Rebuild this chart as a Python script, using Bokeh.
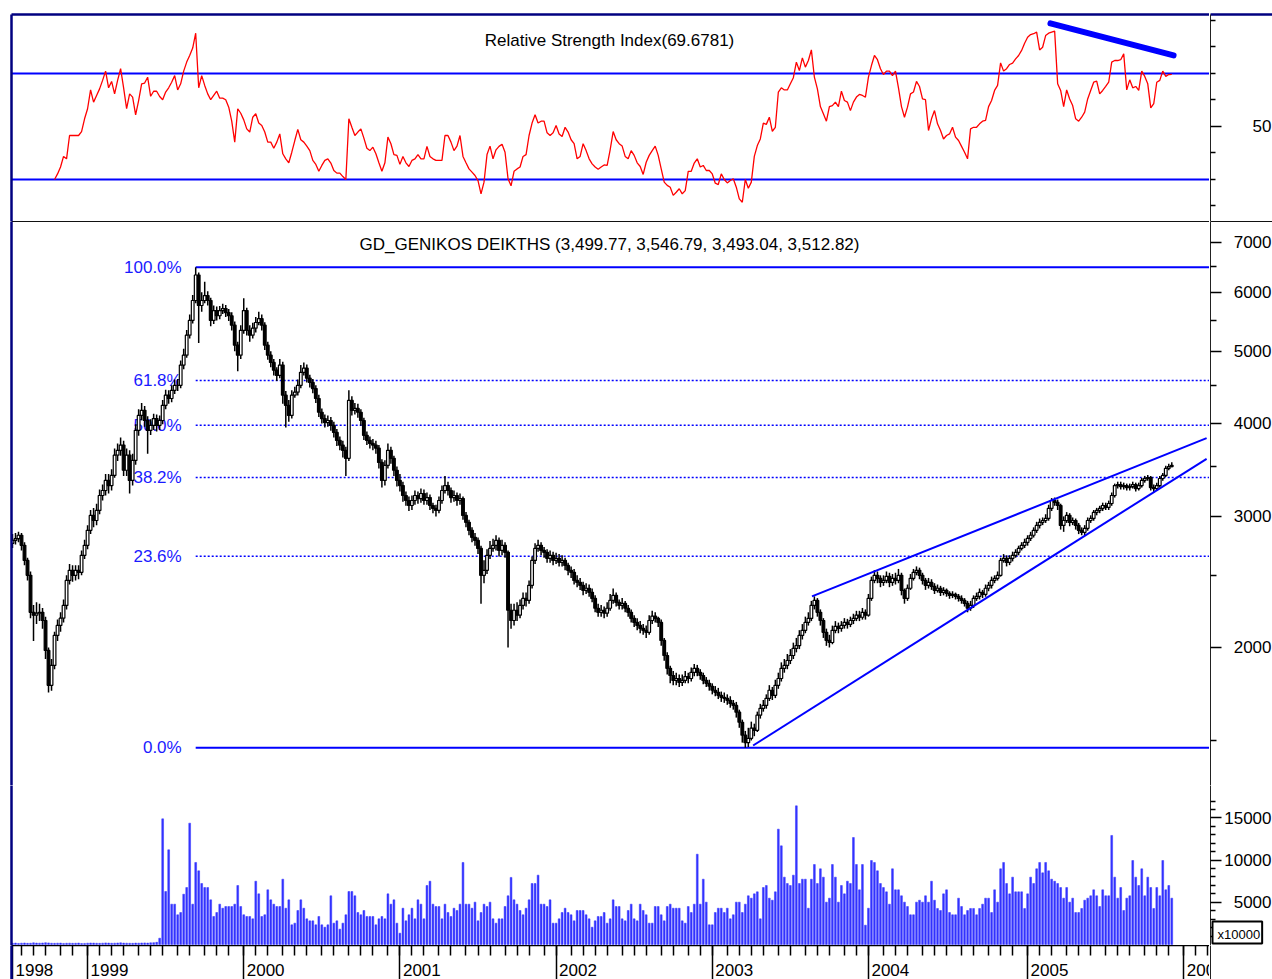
import pandas as pd
from bokeh.plotting import figure
from bokeh.models import (Range1d, LinearAxis, FixedTicker, Span, Label,
                          ColumnDataSource, BasicTickFormatter)
from bokeh.layouts import column, row
from bokeh.embed import file_html
from bokeh.resources import INLINE
from bokeh.core.properties import value

FONT = "Liberation Sans"

# ------------------------------------------------------------------ data
start_date = "1998-07-16"          # first weekly bar
rsi_title = "Relative Strength Index(69.6781)"
price_title = "GD_GENIKOS DEIKTHS (3,499.77, 3,546.79, 3,493.04, 3,512.82)"

opens = [
 2760, 2785, 2800, 2830, 2743, 2618, 2500, 2230, 2210, 2224,
 2230, 2174, 1982, 1779, 1892, 2076, 2141, 2190, 2278, 2461,
 2539, 2500, 2539, 2523, 2660, 2743, 2873, 3009, 2962, 3056,
 3200, 3250, 3353, 3300, 3405, 3625, 3680, 3740, 3460, 3625,
 3353, 3567, 3915, 4100, 4165, 4036, 3915, 3975, 4060, 3975,
 4036, 4230, 4365, 4320, 4430, 4500, 4500, 4790, 4940, 5255,
 5500, 5850, 6330, 5760, 5850, 5940, 5850, 5500, 5670, 5580,
 5670, 5705, 5635, 5580, 5420, 5095, 4940, 5335, 5670, 5335,
 5255, 5370, 5465, 5530, 5420, 5095, 4940, 4830, 4715, 4640,
 4790, 4365, 4230, 4100, 4365, 4405, 4500, 4685, 4745, 4600,
 4540, 4455, 4320, 4140, 4060, 4010, 4036, 3975, 3890, 3795,
 3740, 3680, 3590, 4295, 4165, 4190, 4140, 4036, 3855, 3795,
 3760, 3740, 3705, 3545, 3353, 3512, 3680, 3590, 3460, 3353,
 3300, 3200, 3151, 3103, 3151, 3200, 3170, 3220, 3151, 3180,
 3103, 3075, 3056, 3151, 3250, 3300, 3250, 3180, 3200, 3151,
 3170, 3009, 2945, 2873, 2812, 2785, 2717, 2500, 2539, 2660,
 2717, 2743, 2785, 2700, 2743, 2684, 2244, 2174, 2244, 2210,
 2278, 2328, 2313, 2424, 2618, 2717, 2743, 2700, 2684, 2635,
 2660, 2618, 2635, 2602, 2618, 2578, 2539, 2523, 2461, 2446,
 2424, 2387, 2402, 2372, 2328, 2258, 2230, 2244, 2224, 2258,
 2313, 2350, 2299, 2278, 2292, 2258, 2230, 2188, 2161, 2141,
 2122, 2109, 2096, 2174, 2203, 2188, 2161, 2044, 1951, 1875,
 1834, 1806, 1817, 1795, 1806, 1828, 1817, 1852, 1875, 1852,
 1834, 1806, 1790, 1774, 1752, 1741, 1725, 1714, 1709, 1698,
 1682, 1672, 1637, 1587, 1525, 1490, 1510, 1558, 1548, 1622,
 1657, 1672, 1709, 1752, 1725, 1779, 1817, 1875, 1892, 1921,
 1951, 1994, 2012, 2076, 2109, 2161, 2188, 2278, 2313, 2230,
 2174, 2096, 2044, 2031, 2109, 2135, 2122, 2141, 2161, 2148,
 2174, 2188, 2210, 2196, 2230, 2210, 2328, 2461, 2500, 2477,
 2446, 2461, 2492, 2446, 2477, 2461, 2500, 2387, 2328, 2402,
 2477, 2523, 2539, 2500, 2461, 2424, 2446, 2416, 2387, 2402,
 2372, 2387, 2365, 2350, 2357, 2343, 2328, 2313, 2292, 2258,
 2278, 2328, 2343, 2372, 2357, 2402, 2424, 2461, 2477, 2500,
 2618, 2635, 2602, 2635, 2660, 2684, 2717, 2743, 2768, 2802,
 2830, 2873, 2917, 2945, 2962, 2981, 3075, 3151, 3132, 3103,
 2917, 2962, 3009, 2945, 2962, 2917, 2873, 2856, 2891, 2962,
 2981, 3037, 3056, 3075, 3103, 3084, 3122, 3200, 3300, 3310,
 3290, 3300, 3280, 3290, 3310, 3270, 3300, 3353, 3373, 3383,
 3280, 3270, 3300, 3373, 3405, 3480, 3499.77]

highs = [
 2840, 2850, 2860, 2850, 2770, 2640, 2530, 2280, 2300, 2290,
 2260, 2200, 2000, 1930, 2100, 2180, 2230, 2320, 2500, 2590,
 2580, 2580, 2580, 2700, 2790, 2920, 3060, 3080, 3120, 3260,
 3310, 3420, 3420, 3470, 3700, 3760, 3830, 3790, 3700, 3680,
 3640, 3990, 4180, 4260, 4220, 4090, 4050, 4120, 4110, 4100,
 4300, 4440, 4430, 4500, 4580, 4590, 4860, 5040, 5340, 5600,
 5950, 6484, 6380, 6000, 6200, 6020, 5900, 5760, 5740, 5750,
 5790, 5770, 5700, 5640, 5480, 5150, 5420, 5890, 5720, 5420,
 5460, 5560, 5650, 5600, 5470, 5150, 5000, 4880, 4760, 4880,
 4840, 4420, 4300, 4430, 4480, 4580, 4790, 4830, 4800, 4650,
 4590, 4500, 4370, 4190, 4110, 4100, 4080, 4020, 3930, 3840,
 3790, 3720, 4430, 4350, 4260, 4250, 4180, 4070, 3900, 3840,
 3810, 3790, 3740, 3580, 3570, 3760, 3720, 3620, 3500, 3420,
 3340, 3240, 3190, 3200, 3250, 3240, 3270, 3260, 3230, 3210,
 3130, 3110, 3190, 3300, 3400, 3340, 3280, 3250, 3230, 3220,
 3190, 3040, 2970, 2900, 2850, 2810, 2740, 2620, 2710, 2780,
 2800, 2830, 2810, 2790, 2770, 2700, 2290, 2290, 2300, 2320,
 2370, 2370, 2460, 2650, 2760, 2790, 2770, 2730, 2710, 2700,
 2690, 2680, 2670, 2660, 2640, 2600, 2570, 2550, 2500, 2480,
 2450, 2440, 2430, 2400, 2350, 2290, 2280, 2270, 2300, 2360,
 2400, 2370, 2320, 2330, 2310, 2280, 2250, 2210, 2190, 2170,
 2150, 2140, 2210, 2240, 2230, 2200, 2180, 2060, 1970, 1890,
 1860, 1850, 1840, 1840, 1860, 1850, 1880, 1900, 1895, 1870,
 1850, 1825, 1810, 1790, 1775, 1765, 1745, 1740, 1730, 1720,
 1700, 1690, 1650, 1600, 1545, 1560, 1590, 1580, 1640, 1680,
 1700, 1730, 1780, 1770, 1810, 1850, 1910, 1930, 1960, 1990,
 2030, 2060, 2110, 2150, 2200, 2230, 2310, 2343, 2330, 2250,
 2190, 2120, 2080, 2140, 2170, 2160, 2170, 2190, 2185, 2200,
 2220, 2240, 2240, 2260, 2250, 2360, 2490, 2540, 2530, 2500,
 2500, 2530, 2520, 2510, 2520, 2550, 2520, 2400, 2430, 2510,
 2550, 2570, 2560, 2520, 2480, 2480, 2470, 2440, 2430, 2420,
 2410, 2400, 2380, 2380, 2370, 2360, 2350, 2330, 2310, 2310,
 2350, 2370, 2400, 2390, 2430, 2450, 2490, 2500, 2530, 2640,
 2670, 2660, 2660, 2690, 2710, 2740, 2770, 2800, 2830, 2860,
 2900, 2950, 2980, 2990, 3020, 3110, 3175, 3180, 3160, 3120,
 3000, 3040, 3030, 2990, 2980, 2940, 2900, 2920, 2990, 3010,
 3060, 3080, 3100, 3130, 3130, 3150, 3230, 3320, 3340, 3340,
 3330, 3320, 3320, 3340, 3330, 3330, 3380, 3400, 3410, 3400,
 3310, 3330, 3400, 3430, 3510, 3530, 3546.79]

lows = [
 2720, 2750, 2770, 2700, 2580, 2460, 2190, 2040, 2150, 2170,
 2120, 1930, 1740, 1750, 1870, 2040, 2100, 2160, 2250, 2430,
 2450, 2460, 2470, 2500, 2630, 2710, 2840, 2900, 2920, 3020,
 3150, 3200, 3220, 3250, 3380, 3560, 3620, 3400, 3400, 3220,
 3300, 3520, 3850, 4040, 3960, 3640, 3860, 3920, 3900, 3920,
 3990, 4180, 4250, 4270, 4380, 4420, 4460, 4730, 4900, 5200,
 5450, 5800, 5130, 5650, 5800, 5760, 5400, 5440, 5500, 5520,
 5610, 5560, 5490, 5330, 5000, 4700, 4880, 5280, 5250, 5150,
 5200, 5300, 5420, 5330, 5020, 4870, 4760, 4640, 4560, 4600,
 4250, 3950, 4020, 4060, 4330, 4360, 4460, 4640, 4540, 4470,
 4390, 4260, 4080, 4000, 3950, 3960, 3910, 3830, 3730, 3680,
 3600, 3400, 3560, 4100, 4110, 4070, 3970, 3800, 3740, 3700,
 3680, 3640, 3480, 3280, 3300, 3480, 3530, 3400, 3290, 3240,
 3140, 3100, 3050, 3060, 3110, 3120, 3130, 3110, 3110, 3060,
 3030, 3000, 3030, 3120, 3220, 3200, 3130, 3140, 3100, 3110,
 2970, 2900, 2830, 2770, 2740, 2670, 2290, 2440, 2510, 2630,
 2690, 2700, 2650, 2660, 2640, 2000, 2120, 2140, 2170, 2190,
 2250, 2270, 2290, 2400, 2590, 2690, 2660, 2640, 2600, 2600,
 2580, 2590, 2570, 2570, 2540, 2500, 2480, 2430, 2410, 2390,
 2350, 2360, 2340, 2300, 2230, 2200, 2200, 2190, 2200, 2240,
 2290, 2270, 2250, 2250, 2230, 2200, 2160, 2130, 2110, 2090,
 2080, 2060, 2080, 2150, 2160, 2130, 2010, 1920, 1840, 1790,
 1780, 1780, 1770, 1775, 1790, 1790, 1800, 1830, 1830, 1810,
 1785, 1770, 1750, 1730, 1720, 1705, 1690, 1685, 1675, 1660,
 1650, 1610, 1560, 1490, 1467, 1470, 1500, 1520, 1540, 1605,
 1640, 1655, 1695, 1700, 1710, 1760, 1800, 1850, 1870, 1900,
 1930, 1970, 1990, 2050, 2090, 2140, 2170, 2250, 2200, 2140,
 2060, 2010, 2000, 2020, 2090, 2090, 2100, 2120, 2120, 2130,
 2150, 2170, 2170, 2180, 2180, 2200, 2310, 2440, 2440, 2410,
 2420, 2440, 2410, 2420, 2430, 2440, 2350, 2290, 2310, 2390,
 2460, 2500, 2470, 2430, 2390, 2400, 2390, 2360, 2370, 2345,
 2350, 2340, 2325, 2330, 2320, 2305, 2290, 2270, 2230, 2240,
 2260, 2310, 2320, 2330, 2340, 2380, 2400, 2440, 2460, 2490,
 2600, 2570, 2580, 2610, 2640, 2660, 2700, 2720, 2740, 2780,
 2810, 2850, 2890, 2920, 2940, 2960, 3050, 3100, 3060, 2880,
 2860, 2940, 2910, 2920, 2880, 2840, 2830, 2830, 2870, 2940,
 2960, 3010, 3030, 3050, 3060, 3060, 3100, 3180, 3270, 3260,
 3260, 3250, 3250, 3270, 3240, 3250, 3280, 3330, 3350, 3250,
 3230, 3250, 3280, 3350, 3390, 3460, 3493.04]

closes = [
 2785, 2800, 2830, 2743, 2618, 2500, 2230, 2210, 2224, 2230,
 2174, 1982, 1779, 1892, 2076, 2141, 2190, 2278, 2461, 2539,
 2500, 2539, 2523, 2660, 2743, 2873, 3009, 2962, 3056, 3200,
 3250, 3353, 3300, 3405, 3625, 3680, 3740, 3460, 3625, 3353,
 3567, 3915, 4100, 4165, 4036, 3915, 3975, 4060, 3975, 4036,
 4230, 4365, 4320, 4430, 4500, 4500, 4790, 4940, 5255, 5500,
 5850, 6330, 5760, 5850, 5940, 5850, 5500, 5670, 5580, 5670,
 5705, 5635, 5580, 5420, 5095, 4940, 5335, 5670, 5335, 5255,
 5370, 5465, 5530, 5420, 5095, 4940, 4830, 4715, 4640, 4790,
 4365, 4230, 4100, 4365, 4405, 4500, 4685, 4745, 4600, 4540,
 4455, 4320, 4140, 4060, 4010, 4036, 3975, 3890, 3795, 3740,
 3680, 3590, 4295, 4165, 4190, 4140, 4036, 3855, 3795, 3760,
 3740, 3705, 3545, 3353, 3512, 3680, 3590, 3460, 3353, 3300,
 3200, 3151, 3103, 3151, 3200, 3170, 3220, 3151, 3180, 3103,
 3075, 3056, 3151, 3250, 3300, 3250, 3180, 3200, 3151, 3170,
 3009, 2945, 2873, 2812, 2785, 2717, 2500, 2539, 2660, 2717,
 2743, 2785, 2700, 2743, 2684, 2244, 2174, 2244, 2210, 2278,
 2328, 2313, 2424, 2618, 2717, 2743, 2700, 2684, 2635, 2660,
 2618, 2635, 2602, 2618, 2578, 2539, 2523, 2461, 2446, 2424,
 2387, 2402, 2372, 2328, 2258, 2230, 2244, 2224, 2258, 2313,
 2350, 2299, 2278, 2292, 2258, 2230, 2188, 2161, 2141, 2122,
 2109, 2096, 2174, 2203, 2188, 2161, 2044, 1951, 1875, 1834,
 1806, 1817, 1795, 1806, 1828, 1817, 1852, 1875, 1852, 1834,
 1806, 1790, 1774, 1752, 1741, 1725, 1714, 1709, 1698, 1682,
 1672, 1637, 1587, 1525, 1490, 1510, 1558, 1548, 1622, 1657,
 1672, 1709, 1752, 1725, 1779, 1817, 1875, 1892, 1921, 1951,
 1994, 2012, 2076, 2109, 2161, 2188, 2278, 2313, 2230, 2174,
 2096, 2044, 2031, 2109, 2135, 2122, 2141, 2161, 2148, 2174,
 2188, 2210, 2196, 2230, 2210, 2328, 2461, 2500, 2477, 2446,
 2461, 2492, 2446, 2477, 2461, 2500, 2387, 2328, 2402, 2477,
 2523, 2539, 2500, 2461, 2424, 2446, 2416, 2387, 2402, 2372,
 2387, 2365, 2350, 2357, 2343, 2328, 2313, 2292, 2258, 2278,
 2328, 2343, 2372, 2357, 2402, 2424, 2461, 2477, 2500, 2618,
 2635, 2602, 2635, 2660, 2684, 2717, 2743, 2768, 2802, 2830,
 2873, 2917, 2945, 2962, 2981, 3075, 3151, 3132, 3103, 2917,
 2962, 3009, 2945, 2962, 2917, 2873, 2856, 2891, 2962, 2981,
 3037, 3056, 3075, 3103, 3084, 3122, 3200, 3300, 3310, 3290,
 3300, 3280, 3290, 3310, 3270, 3300, 3353, 3373, 3383, 3280,
 3270, 3300, 3373, 3405, 3480, 3500, 3512.82]

# weekly volume, in units of 10000
volumes = [
 150, 170, 130, 160, 180, 140, 150, 200, 170, 160,
 180, 210, 190, 150, 140, 160, 170, 130, 150, 160,
 140, 150, 170, 120, 130, 160, 180, 170, 150, 140,
 160, 190, 170, 150, 160, 180, 200, 170, 160, 150,
 140, 170, 160, 180, 190, 170, 200, 220, 260, 750,
 14890, 6280, 11220, 4780, 4780, 3520, 3790, 5960, 6750, 14380,
 4780, 9720, 8730, 7230, 6750, 6750, 5290, 3320, 3790, 4780,
 4300, 4500, 4500, 4500, 4780, 6990, 4500, 3520, 3320, 3320,
 3040, 7500, 6000, 3320, 3520, 6480, 5290, 4780, 4500, 4500,
 7740, 4300, 5290, 2330, 2530, 4030, 5290, 4300, 3040, 2800,
 2800, 2330, 3320, 2330, 2050, 2330, 5770, 2530, 2800, 1820,
 2530, 3520, 6280, 6280, 5770, 3790, 3520, 4030, 3320, 3320,
 3320, 2330, 3040, 3320, 3040, 6000, 4780, 5290, 2530, 1340,
 4300, 2800, 3520, 4300, 3040, 5290, 4780, 3040, 6990, 7500,
 4780, 4500, 4500, 3040, 4780, 3790, 3320, 4300, 4030, 4780,
 9720, 4780, 4780, 4300, 5020, 2800, 3790, 4780, 4500, 5020,
 3040, 2530, 3040, 3040, 4500, 5770, 7950, 5290, 4780, 4030,
 3520, 4300, 5290, 7230, 7230, 8220, 4780, 4780, 4500, 5290,
 2530, 2530, 3040, 3790, 4300, 3790, 3520, 2800, 4030, 4030,
 4030, 3520, 3040, 2050, 2800, 3320, 3320, 3790, 2530, 3040,
 5290, 4500, 4500, 3040, 2800, 4030, 4780, 3040, 2800, 4780,
 4030, 3520, 2530, 2530, 4500, 4500, 3520, 2800, 4500, 4780,
 4300, 4300, 4300, 2800, 2530, 4500, 3790, 4780, 10700, 4780,
 7740, 5020, 2330, 2330, 3790, 4300, 4300, 3790, 4300, 3040,
 3520, 5020, 5020, 3790, 4780, 5770, 5490, 6000, 6240, 3040,
 6750, 6990, 5490, 5250, 6240, 13670, 11690, 7980, 7230, 6990,
 8220, 16430, 7230, 7740, 7740, 4300, 7740, 9480, 7230, 8970,
 7980, 5020, 5490, 9480, 7980, 5020, 6990, 6000, 7500, 7230,
 12680, 9480, 6480, 9480, 2290, 4300, 9950, 9720, 8730, 7230,
 6750, 6240, 4780, 8970, 6480, 6480, 5770, 5020, 4500, 3520,
 3520, 5020, 5250, 5020, 5770, 5020, 7500, 5250, 4270, 4030,
 6000, 6480, 3790, 3520, 3520, 5490, 4500, 3520, 4030, 4270,
 4270, 3520, 4270, 4780, 5490, 5490, 3790, 6480, 5020, 8970,
 9720, 7230, 6000, 7980, 6240, 6240, 6240, 4270, 6000, 7980,
 7230, 8970, 9720, 8490, 9720, 8730, 7740, 7500, 7230, 6750,
 5490, 6750, 5020, 5490, 3790, 3790, 4270, 5250, 5490, 5770,
 6480, 5770, 4500, 6480, 5770, 5770, 12920, 7980, 5490, 6750,
 4030, 5490, 5770, 9950, 7980, 6990, 8970, 5770, 7980, 6750,
 4270, 6750, 5770, 9950, 6480, 6990, 5490]

rsi_first_bar = 14
rsi_values = [
 30.0, 32.1, 34.7, 38.7, 37.8, 46.6, 46.6, 46.6, 46.6, 48.1,
 52.9, 56.7, 63.8, 59.2, 61.7, 64.2, 67.4, 70.9, 64.6, 67.0,
 62.3, 67.4, 71.8, 64.6, 56.7, 62.3, 61.1, 54.4, 59.8, 66.1,
 66.4, 68.6, 61.4, 63.3, 63.3, 61.3, 60.1, 63.0, 64.6, 66.7,
 69.2, 63.8, 66.1, 70.9, 74.3, 76.8, 79.6, 85.2, 64.6, 69.2,
 65.5, 62.3, 60.1, 61.7, 63.3, 60.7, 60.7, 60.1, 57.3, 52.0,
 44.1, 56.7, 55.0, 52.5, 49.1, 47.9, 53.5, 54.8, 51.3, 50.4,
 47.9, 44.1, 44.1, 41.8, 44.1, 47.2, 39.7, 37.8, 36.3, 40.3,
 44.7, 48.9, 45.0, 44.1, 42.6, 40.9, 37.2, 35.7, 33.1, 35.3,
 37.2, 37.8, 36.2, 33.4, 32.4, 32.4, 31.1, 30.0, 52.9, 49.7,
 46.6, 47.9, 49.1, 45.6, 41.8, 40.9, 42.2, 39.7, 36.3, 33.1,
 36.3, 46.0, 43.5, 39.4, 39.1, 35.7, 38.7, 36.3, 34.9, 37.2,
 37.8, 39.4, 37.8, 37.8, 42.5, 38.7, 37.8, 37.2, 37.2, 37.2,
 46.6, 46.6, 44.1, 40.9, 42.6, 46.6, 38.7, 36.3, 34.0, 32.8,
 31.5, 29.6, 24.6, 29.0, 39.4, 42.6, 37.8, 41.2, 42.5, 43.3,
 40.3, 30.3, 27.6, 33.1, 34.0, 34.7, 38.7, 39.4, 46.6, 51.3,
 54.4, 51.3, 52.0, 52.0, 47.6, 46.6, 47.6, 50.4, 47.2, 46.2,
 49.7, 47.9, 45.0, 43.5, 37.8, 38.7, 43.5, 40.9, 37.8, 35.9,
 34.7, 33.9, 34.7, 35.5, 35.3, 41.2, 48.1, 45.0, 43.5, 42.6,
 38.7, 37.8, 40.9, 39.1, 36.3, 34.9, 31.9, 36.5, 39.1, 40.9,
 42.6, 39.1, 34.0, 29.0, 27.8, 27.1, 24.0, 25.2, 26.5, 24.6,
 25.8, 33.1, 33.1, 36.2, 37.8, 34.7, 35.3, 33.4, 33.4, 32.1,
 28.6, 28.1, 32.1, 30.0, 28.7, 29.6, 30.3, 27.1, 22.7, 21.4,
 30.0, 26.7, 29.0, 38.7, 42.8, 45.3, 51.3, 50.8, 53.5, 48.2,
 49.7, 63.0, 64.6, 63.8, 63.8, 66.1, 68.4, 74.3, 71.1, 75.9,
 72.4, 74.9, 78.9, 68.6, 64.2, 57.5, 54.8, 52.0, 57.5, 57.9,
 59.2, 57.5, 63.3, 59.8, 59.2, 56.0, 59.2, 61.1, 62.1, 61.7,
 61.1, 68.6, 73.0, 76.8, 75.2, 71.8, 69.6, 70.9, 70.9, 69.2,
 70.9, 64.6, 57.5, 53.5, 57.3, 62.3, 63.0, 67.0, 65.1, 60.4,
 60.1, 48.5, 52.9, 56.0, 51.0, 48.5, 45.3, 46.6, 47.2, 49.7,
 46.0, 44.7, 42.5, 40.3, 37.8, 49.1, 49.7, 49.7, 51.0, 52.0,
 52.3, 57.5, 59.8, 63.6, 65.5, 74.0, 70.9, 71.8, 73.4, 73.9,
 75.5, 76.8, 78.7, 81.4, 83.7, 84.7, 85.0, 85.6, 78.9, 79.9,
 84.3, 85.2, 85.6, 86.0, 66.1, 63.6, 57.5, 63.8, 60.4, 57.9,
 52.9, 52.0, 53.5, 55.4, 60.4, 63.6, 66.7, 67.1, 62.3, 63.6,
 65.1, 66.7, 74.3, 74.9, 74.9, 75.2, 77.4, 63.8, 67.6, 64.6,
 65.1, 63.6, 70.9, 68.9, 66.1, 57.0, 58.6, 66.7, 67.4, 70.9,
 68.9, 69.6, 69.68]

rsi_levels = [70, 30]
rsi_trend_x = [345.6, 386.6]
rsi_trend_y = [88.9, 76.8]

fib_high = 6484.0
fib_low = 1467.0
fib_start_bar = 61
fib_ratios = [1.0, 0.618, 0.5, 0.382, 0.236, 0.0]
fib_labels = ["100.0%", "61.8%", "50.0%", "38.2%", "23.6%", "0.0%"]

chan_lower_x = [246.6, 397.6]
chan_lower_y = [1477.0, 3585.0]
chan_upper_x = [266.2, 397.6]
chan_upper_y = [2342.0, 3821.0]

rsi_major_ticks = [50]
rsi_minor_ticks = [20, 30, 40, 60, 70, 80, 90]
price_major_ticks = [2000, 3000, 4000, 5000, 6000, 7000]
price_minor_ticks = [1500, 2500, 3500, 4500, 5500, 6500]
vol_major_ticks = [5000, 10000, 15000]
vol_minor_ticks = [1000, 2000, 3000, 4000, 6000, 7000, 8000, 9000, 11000,
                   12000, 13000, 14000, 16000, 17000]
vol_unit = "x10000"

# ------------------------------------------------------------------ layout
PW, AW = 1209, 63          # chart part / right scale part widths
LB = 11
H1, H2, H3, H4 = 221, 564, 160, 34
N = len(closes)
xr = Range1d(-0.33, 398.56)

dates = pd.date_range(start_date, periods=int(xr.end) + 2, freq="7D")
yrs = list(dates.year)
mons = list(dates.month)
year_ticks = [0] + [i for i in range(1, len(dates)) if yrs[i] != yrs[i - 1]]
month_ticks = [i for i in range(1, len(dates)) if mons[i] != mons[i - 1]]


def main_fig(h, yrange, top, log=False):
    p = figure(width=PW, height=h, x_range=xr, y_range=yrange,
               y_axis_type="log" if log else "linear",
               x_axis_location=None, y_axis_location=None,
               output_backend="svg", toolbar_location=None,
               min_border_left=LB, min_border_right=0,
               min_border_top=top, min_border_bottom=0,
               outline_line_color=None, background_fill_color="white",
               border_fill_color="white")
    p.grid.visible = False
    return p


def side_fig(h, yrange, top, log=False):
    a = figure(width=AW, height=h, x_range=Range1d(0, 1), y_range=yrange,
               y_axis_type="log" if log else "linear",
               x_axis_location=None, y_axis_location=None,
               output_backend="svg", toolbar_location=None,
               min_border_left=1, min_border_right=0,
               min_border_top=top, min_border_bottom=0,
               outline_line_color=None, background_fill_color="white",
               border_fill_color="white")
    a.grid.visible = False
    return a


def edge_axis(p, side, color, width):
    ax = LinearAxis(ticker=FixedTicker(ticks=[]), axis_line_color=color,
                    axis_line_width=width, major_tick_line_color=None,
                    minor_tick_line_color=None, major_tick_in=0, major_tick_out=0,
                    minor_tick_in=0, minor_tick_out=0, major_label_standoff=0,
                    major_label_text_font_size="0px")
    p.add_layout(ax, side)


def scale_axis(a, major, minor, major_len, minor_len):
    # ticks point right into the scale strip, labels right-aligned at its edge
    ax = LinearAxis(ticker=FixedTicker(ticks=major, minor_ticks=minor),
                    formatter=BasicTickFormatter(use_scientific=False),
                    axis_line_color="#222222", axis_line_width=1,
                    major_tick_line_color="black", minor_tick_line_color="black",
                    major_tick_line_width=1.5, minor_tick_line_width=1.5,
                    major_tick_in=major_len, major_tick_out=0,
                    minor_tick_in=minor_len, minor_tick_out=0,
                    major_label_standoff=-(AW - 2), major_label_text_font=FONT,
                    major_label_text_font_size="17px",
                    major_label_text_color="black")
    a.add_layout(ax, "left")


# ---- RSI panel
rsi_range = Range1d(14.15, 92.26)
p1 = main_fig(H1, rsi_range, 14)
edge_axis(p1, "above", "#000080", 2.5)
edge_axis(p1, "left", "#000080", 2.5)
for lv in rsi_levels:
    p1.add_layout(Span(location=lv, dimension="width", line_color="#0000ff",
                       line_width=2, level="underlay"))
p1.line(x=list(range(rsi_first_bar, rsi_first_bar + len(rsi_values))),
        y=rsi_values, line_color="#ff0000", line_width=1.3)
p1.line(x=rsi_trend_x, y=rsi_trend_y, line_color="#0000ff", line_width=6,
        line_cap="round")
p1.add_layout(Label(x=598, y=181, x_units="screen", y_units="screen",
                    text=rsi_title, text_align="center", text_baseline="middle",
                    text_font=FONT, text_font_size="17px", text_color="black"))
a1 = side_fig(H1, rsi_range, 14)
edge_axis(a1, "above", "#000080", 2.5)
scale_axis(a1, rsi_major_ticks, rsi_minor_ticks, 11, 5)

# ---- price panel
price_range = Range1d(1305, 7469)
p2 = main_fig(H2, price_range, 0, log=True)
edge_axis(p2, "above", "#111111", 1)
edge_axis(p2, "left", "#000080", 2.5)

levels = [fib_low + r * (fib_high - fib_low) for r in fib_ratios]
for r, lv in zip(fib_ratios, levels):
    solid = r in (0.0, 1.0)
    p2.segment(x0=fib_start_bar, y0=lv, x1=xr.end + 10, y1=lv,
               line_color="#0000ff", line_width=2 if solid else 1.5,
               line_dash="solid" if solid else "2 2")
p2.text(x=[fib_start_bar] * len(levels), y=levels, text=fib_labels,
        x_offset=-14, text_align="right", text_baseline="middle",
        text_font=value(FONT), text_font_size="17px", text_color="#1a1aff")

src = ColumnDataSource(dict(
    x=list(range(N)), o=opens, h=highs, l=lows, c=closes,
    top=[max(a, b) for a, b in zip(opens, closes)],
    bot=[min(a, b) for a, b in zip(opens, closes)],
    fill=["white" if c >= o else "black" for o, c in zip(opens, closes)]))
p2.segment(x0="x", y0="l", x1="x", y1="h", source=src, line_color="black",
           line_width=1.5)
p2.vbar(x="x", top="top", bottom="bot", width=0.9, fill_color="fill",
        line_color="black", line_width=1.2, source=src)

p2.line(x=chan_lower_x, y=chan_lower_y, line_color="#0000ff", line_width=2)
p2.line(x=chan_upper_x, y=chan_upper_y, line_color="#0000ff", line_width=2)
p2.add_layout(Label(x=598, y=541, x_units="screen", y_units="screen",
                    text=price_title, text_align="center", text_baseline="middle",
                    text_font=FONT, text_font_size="17px", text_color="black"))
a2 = side_fig(H2, price_range, 0, log=True)
edge_axis(a2, "above", "#111111", 1)
scale_axis(a2, price_major_ticks, price_minor_ticks, 11, 6)

# ---- volume panel
vol_range = Range1d(-118, 18840)
p3 = main_fig(H3, vol_range, 0)
edge_axis(p3, "left", "#000080", 2.5)
p3.vbar(x=list(range(N)), top=volumes, bottom=0, width=0.6,
        fill_color="#3333ff", line_color="#3333ff", line_width=0.5)
a3 = side_fig(H3, vol_range, 0)
scale_axis(a3, vol_major_ticks, vol_minor_ticks, 11, 5)
a3.add_layout(Label(x=2, y=2, x_units="screen", y_units="screen",
                    text=vol_unit, text_align="left", text_baseline="bottom",
                    text_font=FONT, text_font_size="13px", text_color="black",
                    border_line_color="black", border_line_width=2,
                    background_fill_color="white", padding=(5, 2, 5, 2)))

# ---- time axis strip
p4 = main_fig(H4, Range1d(0, 1), 0)
edge_axis(p4, "left", "#000080", 2.5)
xa = LinearAxis(ticker=FixedTicker(ticks=year_ticks, minor_ticks=month_ticks),
                major_label_overrides={t: "" for t in year_ticks},
                axis_line_color="black", axis_line_width=1.5,
                major_tick_line_color="black", minor_tick_line_color="black",
                major_tick_line_width=1.5, minor_tick_line_width=1.5,
                major_tick_in=34, major_tick_out=0, minor_tick_in=10,
                minor_tick_out=0, major_label_standoff=0,
                major_label_text_font_size="0px")
p4.add_layout(xa, "above")
yt = [t for t in year_ticks if t < xr.end]
p4.text(x=yt, y=[0.27] * len(yt), text=[str(yrs[t]) for t in yt], x_offset=3,
        text_align="left", text_baseline="middle", text_font=value(FONT),
        text_font_size="17px", text_color="black")
a4 = side_fig(H4, Range1d(0, 1), 0)
edge_axis(a4, "left", "#222222", 1)

layout = column(row(p1, a1), row(p2, a2), row(p3, a3), row(p4, a4))
open("out.html", "w").write(file_html(layout, INLINE, "chart"))
